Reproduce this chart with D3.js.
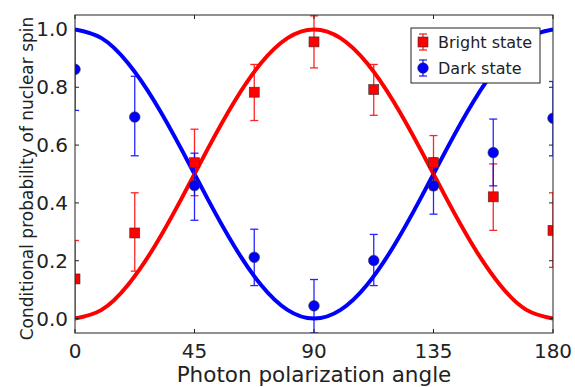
<!DOCTYPE html>
<html>
<head>
<meta charset="utf-8">
<script src="https://cdn.jsdelivr.net/npm/d3@7"></script>
<style>
  body { margin: 0; background: #fff; }
  svg { display: block; font-family: "DejaVu Sans", sans-serif; }
</style>
</head>
<body>
<svg id="chart" width="575" height="387"></svg>
<script>
// measured angles (deg)
const angles = [0, 22.5, 45, 67.5, 90, 112.5, 135, 157.5, 180];
// bright state: value, lower, upper
const brightVals = [0.137, 0.296, 0.539, 0.783, 0.957, 0.792, 0.539, 0.421, 0.305];
const brightLo   = [0.005, 0.164, 0.425, 0.685, 0.867, 0.703, 0.445, 0.305, 0.177];
const brightHi   = [0.270, 0.435, 0.655, 0.879, 1.047, 0.879, 0.633, 0.535, 0.435];
// dark state
const darkVals = [0.862, 0.697, 0.460, 0.212, 0.044, 0.201, 0.459, 0.574, 0.693];
const darkLo   = [0.720, 0.563, 0.340, 0.114, -0.050, 0.114, 0.361, 0.459, 0.563];
const darkHi   = [1.000, 0.838, 0.572, 0.309, 0.135, 0.291, 0.555, 0.690, 0.820];
// fit curves every 10 deg
const fitAngles = [0, 10, 20, 30, 40, 50, 60, 70, 80, 90, 100, 110, 120, 130, 140, 150, 160, 170, 180];
const brightFit = [0, 0.030, 0.117, 0.250, 0.413, 0.587, 0.750, 0.883, 0.970, 1, 0.970, 0.883, 0.750, 0.587, 0.413, 0.250, 0.117, 0.030, 0];
const darkFit   = [1, 0.970, 0.883, 0.750, 0.587, 0.413, 0.250, 0.117, 0.030, 0, 0.030, 0.117, 0.250, 0.413, 0.587, 0.750, 0.883, 0.970, 1];
const xTicks = [0, 45, 90, 135, 180];
const yTicks = [0.0, 0.2, 0.4, 0.6, 0.8, 1.0];

const margin = {top: 15, right: 22, bottom: 54, left: 75};
const W = 575, H = 387;
const w = W - margin.left - margin.right;
const h = H - margin.top - margin.bottom;

const svg = d3.select("#chart");
const g = svg.append("g").attr("transform", "translate(" + margin.left + "," + margin.top + ")");

const x = d3.scaleLinear().domain([0, 180]).range([0, w]);
const y = d3.scaleLinear().domain([-0.05, 1.05]).range([h, 0]);

g.append("clipPath").attr("id", "clip")
  .append("rect").attr("width", w).attr("height", h);

const plot = g.append("g").attr("clip-path", "url(#clip)");

const red = "#ff0000", blue = "#0000ff";

// fit curves
const line = (vals) => d3.line()
  .x((d, i) => x(fitAngles[i]))
  .y(d => y(d))
  .curve(d3.curveNatural)(vals);

plot.append("path").attr("d", line(darkFit))
  .attr("fill", "none").attr("stroke", blue).attr("stroke-width", 4);
plot.append("path").attr("d", line(brightFit))
  .attr("fill", "none").attr("stroke", red).attr("stroke-width", 4);

// error bars
function errorBars(vals, lo, hi, color) {
  const eb = plot.append("g").attr("stroke", color).attr("stroke-width", 1.3).attr("opacity", 0.85);
  angles.forEach((a, i) => {
    const cx = x(a);
    eb.append("line").attr("x1", cx).attr("x2", cx).attr("y1", y(lo[i])).attr("y2", y(hi[i]));
    eb.append("line").attr("x1", cx - 4).attr("x2", cx + 4).attr("y1", y(lo[i])).attr("y2", y(lo[i]));
    eb.append("line").attr("x1", cx - 4).attr("x2", cx + 4).attr("y1", y(hi[i])).attr("y2", y(hi[i]));
  });
}
errorBars(brightVals, brightLo, brightHi, red);
errorBars(darkVals, darkLo, darkHi, blue);

// markers
plot.selectAll(".sq").data(brightVals).enter().append("rect")
  .attr("x", (d, i) => x(angles[i]) - 5).attr("y", d => y(d) - 5)
  .attr("width", 10).attr("height", 10)
  .attr("fill", red).attr("stroke", "#333").attr("stroke-width", 0.6);
plot.selectAll(".dot").data(darkVals).enter().append("circle")
  .attr("cx", (d, i) => x(angles[i])).attr("cy", d => y(d)).attr("r", 5.3)
  .attr("fill", blue).attr("stroke", "#333").attr("stroke-width", 0.6);

// frame
g.append("rect").attr("width", w).attr("height", h)
  .attr("fill", "none").attr("stroke", "#222").attr("stroke-width", 1);

// ticks (inward, all four sides)
const tk = g.append("g").attr("stroke", "#222").attr("stroke-width", 1);
xTicks.forEach(t => {
  tk.append("line").attr("x1", x(t)).attr("x2", x(t)).attr("y1", h).attr("y2", h - 4);
  tk.append("line").attr("x1", x(t)).attr("x2", x(t)).attr("y1", 0).attr("y2", 4);
});
yTicks.forEach(t => {
  tk.append("line").attr("x1", 0).attr("x2", 4).attr("y1", y(t)).attr("y2", y(t));
  tk.append("line").attr("x1", w).attr("x2", w - 4).attr("y1", y(t)).attr("y2", y(t));
});

// tick labels
g.selectAll(".xl").data(xTicks).enter().append("text")
  .attr("x", d => x(d)).attr("y", h + 25)
  .attr("text-anchor", "middle").attr("font-size", 20).attr("fill", "#222")
  .text(d => d);
g.selectAll(".yl").data(yTicks).enter().append("text")
  .attr("x", -7).attr("y", d => y(d) + 7)
  .attr("text-anchor", "end").attr("font-size", 20).attr("fill", "#222")
  .text(d => d.toFixed(1));

// axis labels
svg.append("text").attr("x", margin.left + w / 2).attr("y", 382)
  .attr("text-anchor", "middle").attr("font-size", 21.5).attr("fill", "#222")
  .text("Photon polarization angle");
svg.append("text")
  .attr("transform", "translate(33,178.5) rotate(-90)")
  .attr("text-anchor", "middle").attr("font-size", 17).attr("fill", "#222")
  .text("Conditional probability of nuclear spin");

// legend
const lg = svg.append("g").attr("transform", "translate(411,28)");
lg.append("rect").attr("width", 129).attr("height", 55)
  .attr("fill", "#fff").attr("stroke", "#222").attr("stroke-width", 1);
const entries = [
  {label: "Bright state", color: red, shape: "sq"},
  {label: "Dark state", color: blue, shape: "dot"}
];
entries.forEach((e, i) => {
  const cy = 14 + i * 26, cx = 12;
  const eg = lg.append("g");
  eg.append("line").attr("x1", cx).attr("x2", cx).attr("y1", cy - 8).attr("y2", cy + 8)
    .attr("stroke", e.color).attr("stroke-width", 1.3).attr("opacity", 0.85);
  [-8, 8].forEach(o => eg.append("line").attr("x1", cx - 4).attr("x2", cx + 4)
    .attr("y1", cy + o).attr("y2", cy + o)
    .attr("stroke", e.color).attr("stroke-width", 1.3).attr("opacity", 0.85));
  if (e.shape === "sq") {
    eg.append("rect").attr("x", cx - 5).attr("y", cy - 5).attr("width", 10).attr("height", 10)
      .attr("fill", e.color).attr("stroke", "#333").attr("stroke-width", 0.6);
  } else {
    eg.append("circle").attr("cx", cx).attr("cy", cy).attr("r", 5.3)
      .attr("fill", e.color).attr("stroke", "#333").attr("stroke-width", 0.6);
  }
  lg.append("text").attr("x", 27).attr("y", cy + 6).attr("font-size", 16).attr("fill", "#222")
    .text(e.label);
});
</script>
</body>
</html>
